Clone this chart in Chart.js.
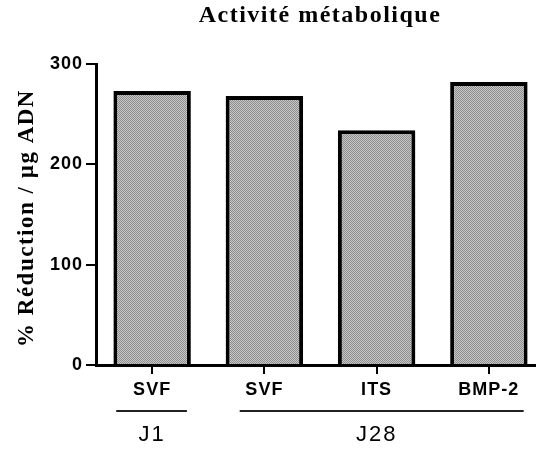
<!DOCTYPE html>
<html><head><meta charset="utf-8">
<script src="https://cdn.jsdelivr.net/npm/chart.js@4"></script>
<style>html,body{margin:0;padding:0;background:#fff;overflow:hidden;width:536px;height:451px}</style>
</head><body>
<canvas id="c" width="545" height="451" style="width:545px;height:451px;display:block"></canvas>
<script>
const categories = ['SVF', 'SVF', 'ITS', 'BMP-2'];
const values = [273, 268, 234, 282];
const yTicks = [0, 100, 200, 300];
const groupLabels = ['J1', 'J28'];
const groupStart = [0, 1];
const groupEnd = [0, 3];
const titleText = 'Activité métabolique';
const yTitleText = '% Réduction / µg ADN';

// dithered grey fill
const pc = document.createElement('canvas');
pc.width = 2; pc.height = 2;
const pctx = pc.getContext('2d');
pctx.fillStyle = '#c6c6c6'; pctx.fillRect(0, 0, 2, 2);
pctx.fillStyle = '#8e8e8e'; pctx.fillRect(0, 0, 1, 1); pctx.fillRect(1, 1, 1, 1);
const ctx = document.getElementById('c').getContext('2d');
const fillPattern = ctx.createPattern(pc, 'repeat');

const SANS = '"Liberation Sans", Arial, sans-serif';
const SERIF = '"Liberation Serif", "Times New Roman", serif';

const spacingPlugin = {
  id: 'spacing',
  beforeDraw(chart) { chart.ctx.letterSpacing = '1px'; }
};

const decor = {
  id: 'decor',
  afterDraw(chart) {
    const c = chart.ctx;
    const xs = chart.scales.x;
    const cw = xs.getPixelForValue(1) - xs.getPixelForValue(0);
    c.save();
    c.fillStyle = '#000';
    // title
    c.font = 'bold 24px ' + SERIF;
    c.letterSpacing = '1.5px';
    c.textAlign = 'center';
    c.textBaseline = 'alphabetic';
    c.fillText(titleText, 320, 22);
    // y title
    c.save();
    c.translate(33, 218);
    c.rotate(-Math.PI / 2);
    c.font = 'bold 23px ' + SERIF;
    c.letterSpacing = '1.5px';
    c.fillText(yTitleText, 0, 0);
    c.restore();
    // groups
    c.strokeStyle = '#222';
    c.lineWidth = 2;
    c.font = '22px ' + SANS;
    c.letterSpacing = '2px';
    for (let g = 0; g < groupLabels.length; g++) {
      const a = xs.getPixelForValue(groupStart[g]);
      const b = xs.getPixelForValue(groupEnd[g]);
      const l = groupStart[g] === groupEnd[g] ? a - 0.32 * cw : a - 0.22 * cw;
      c.beginPath();
      c.moveTo(l, 411);
      c.lineTo(b + 0.31 * cw, 411);
      c.stroke();
      c.fillText(groupLabels[g], (a + b) / 2, 441);
    }
    c.restore();
  }
};

new Chart(ctx, {
  type: 'bar',
  data: {
    labels: categories,
    datasets: [{
      data: values,
      backgroundColor: fillPattern,
      borderColor: '#000',
      borderWidth: 4,
      borderSkipped: 'start',
      barPercentage: 0.69,
      categoryPercentage: 1
    }]
  },
  options: {
    responsive: false,
    animation: false,
    layout: { padding: { top: 64, right: 0, bottom: 0, left: 0 } },
    plugins: { legend: { display: false }, tooltip: { enabled: false }, title: { display: false } },
    scales: {
      x: {
        type: 'category',
        offset: true,
        grid: { display: true, drawOnChartArea: false, drawTicks: true, tickLength: 9, color: '#000', lineWidth: 2, offset: false },
        border: { display: true, color: '#000', width: 3 },
        ticks: { font: { family: SANS, size: 18, weight: 'bold' }, color: '#000', padding: 5, maxRotation: 0, autoSkip: false },
        afterFit(s) { s.height = 86; }
      },
      y: {
        min: 0, max: 300,
        afterBuildTicks(s) { s.ticks = yTicks.map(v => ({ value: v })); },
        grid: { display: true, drawOnChartArea: false, tickLength: 10, color: '#000', lineWidth: 2 },
        border: { display: true, color: '#000', width: 3 },
        ticks: { font: { family: SANS, size: 18, weight: 'bold' }, color: '#000', padding: 3 },
        afterFit(s) { s.width = 96; }
      }
    }
  },
  plugins: [spacingPlugin, decor]
});
</script>
</body></html>
